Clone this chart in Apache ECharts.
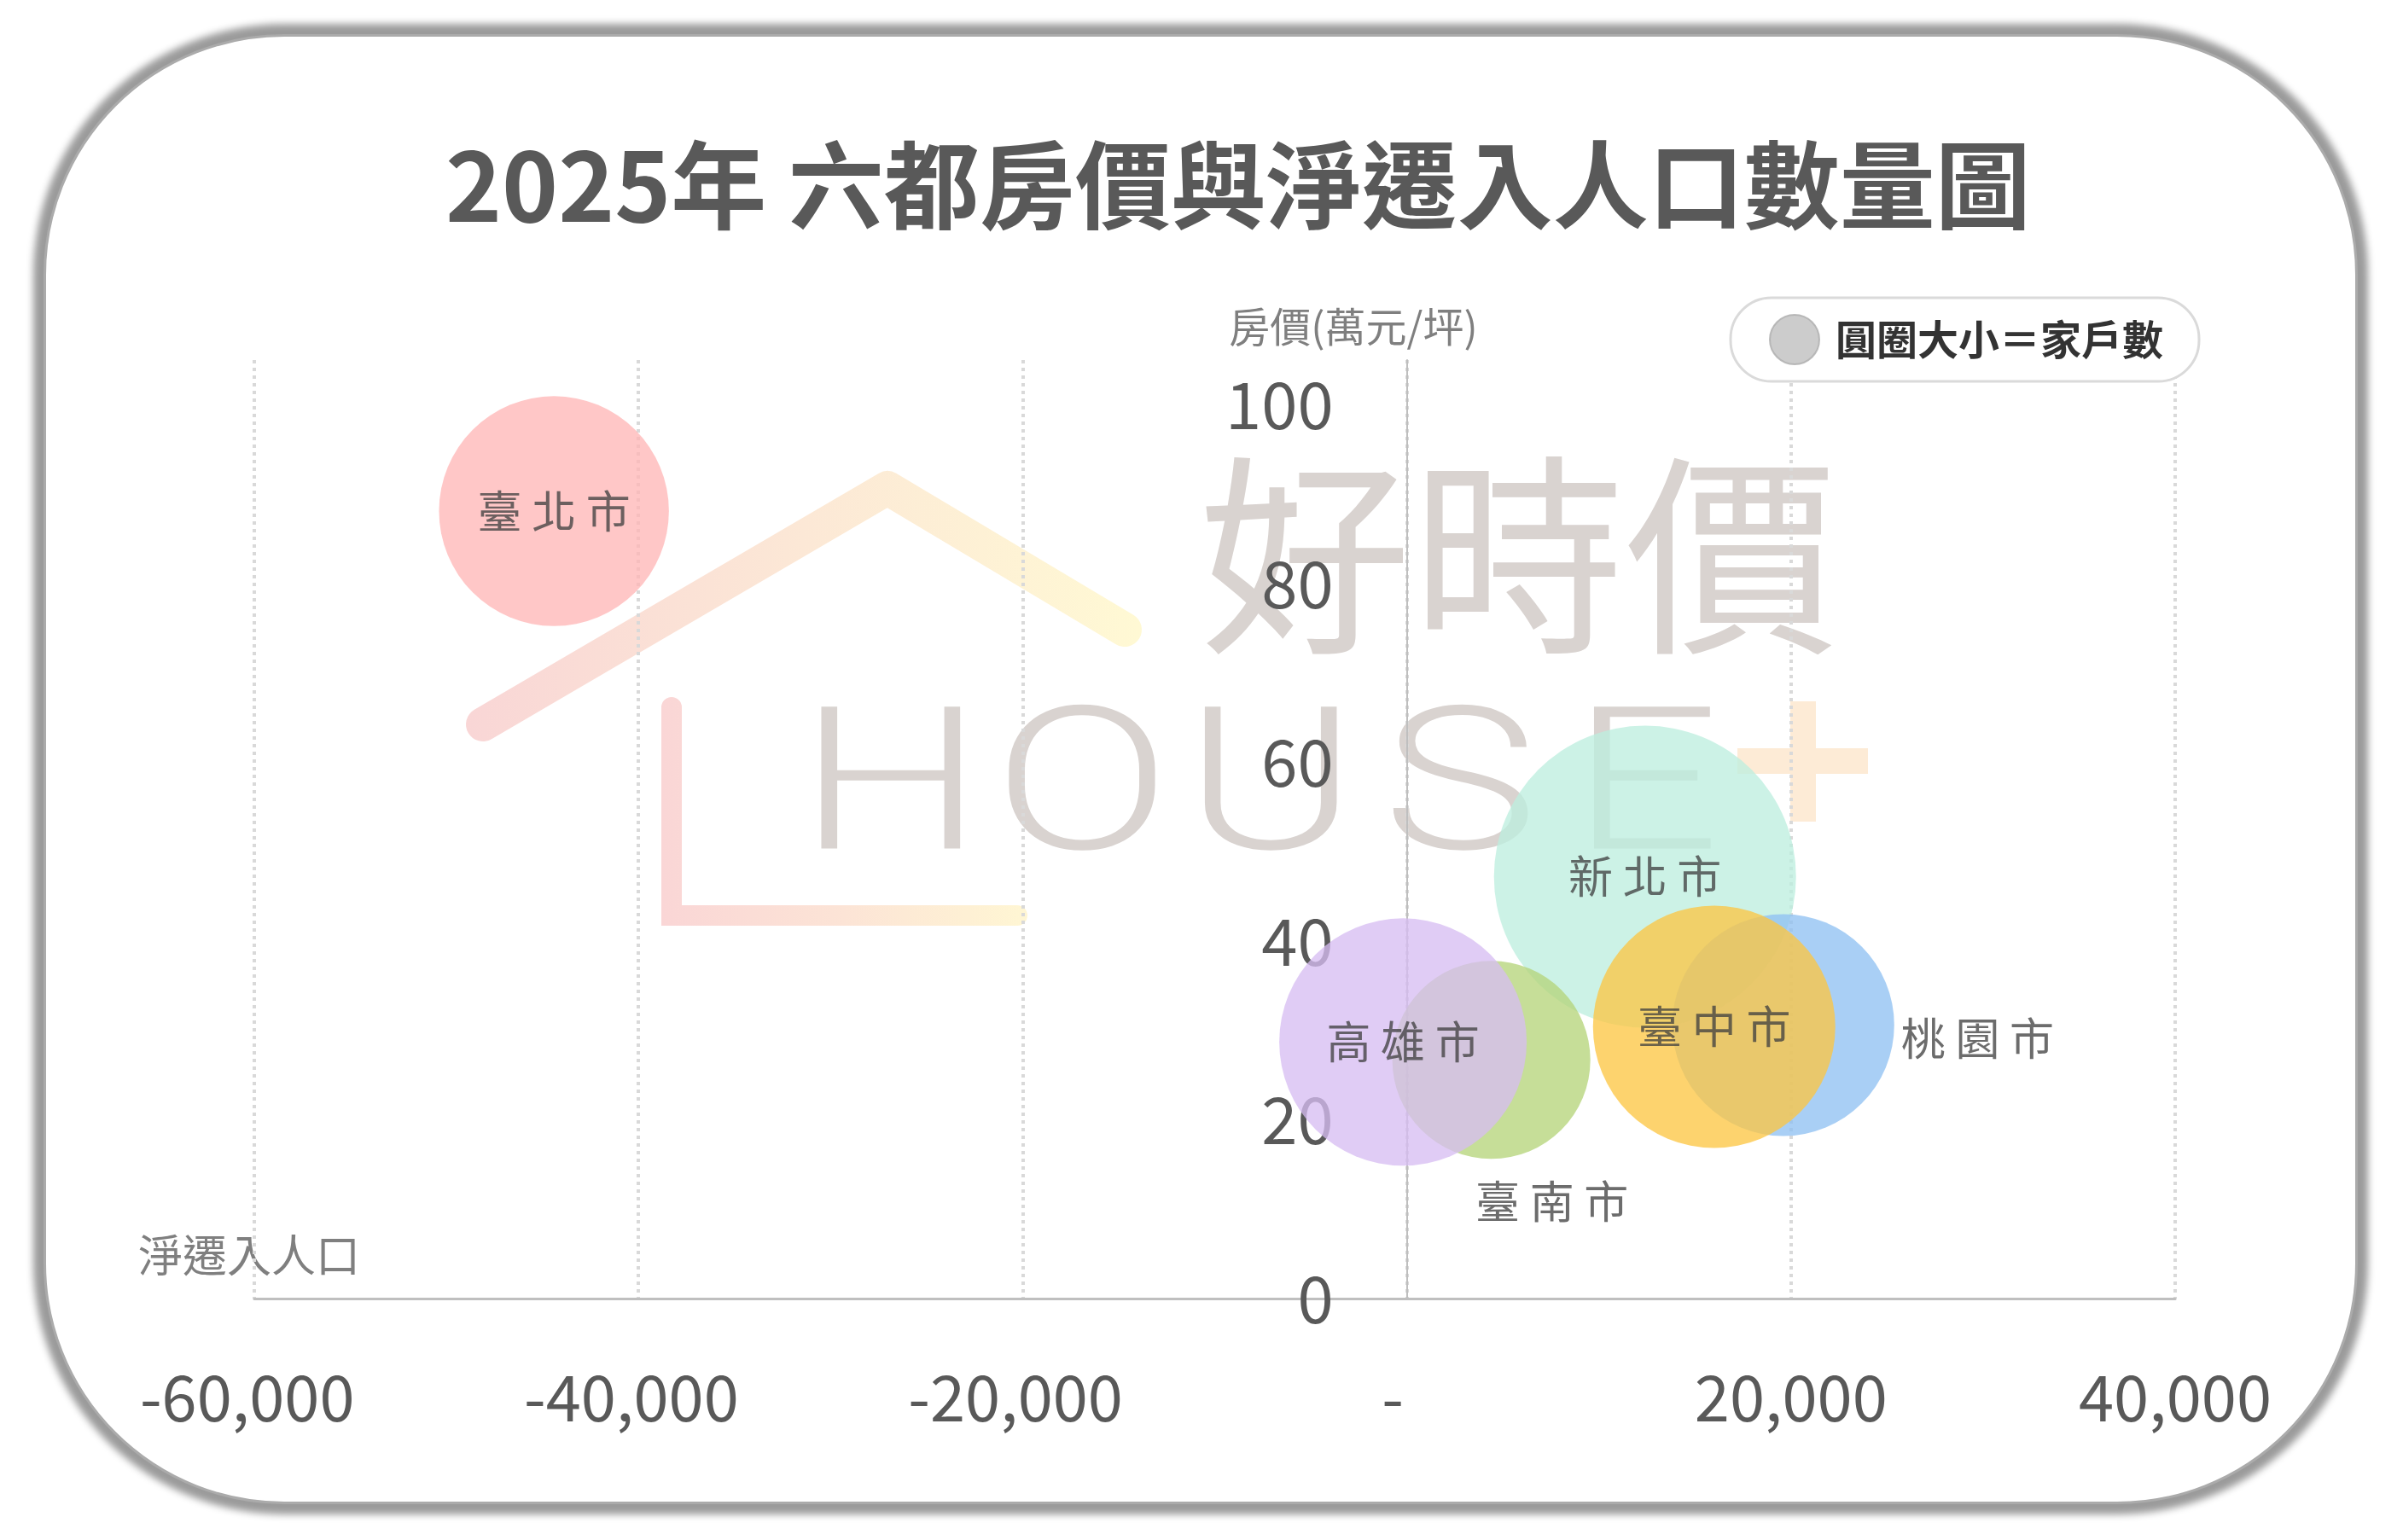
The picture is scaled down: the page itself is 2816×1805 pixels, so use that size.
<!DOCTYPE html>
<html>
<head>
<meta charset="utf-8">
<title>2025年 六都房價與淨遷入人口數量圖</title>
<script src="https://cdn.jsdelivr.net/npm/echarts@6/dist/echarts.min.js"></script>
<style>
  html, body { margin: 0; padding: 0; background: #fff; }
  #card {
    position: absolute; left: 51px; top: 40px; width: 2712px; height: 1723px;
    box-sizing: border-box; border: 3px solid #ababab; border-radius: 282px;
    background: #fff; box-shadow: 0 0 8px 12px #9b9b9b;
  }
  #main { position: absolute; left: 0; top: 0; width: 2816px; height: 1805px; }
</style>
</head>
<body>
<div id="card"></div>
<div id="main"></div>
<script>
// 資料（依繪製順序，後者在上）
const cities = ['新北市', '臺南市', '高雄市', '桃園市', '臺中市', '臺北市'];
const netMigration = [12400, 4400, -200, 19600, 16000, -44400];   // 淨遷入人口
const housePrice = [47.2, 26.7, 28.7, 30.6, 30.4, 88.1];          // 房價(萬元/坪)
const households = [1680000, 722000, 1127000, 906000, 1081000, 973000]; // 家戶數
const xTicks = [-60000, -40000, -20000, 0, 20000, 40000];
const yTicks = [0, 20, 40, 60, 80, 100];

const palette = {
  '臺北市': '#FFB6B6', '新北市': '#BDEEDF', '桃園市': '#8FC1F2',
  '臺中市': '#FCC643', '臺南市': '#B5D479', '高雄市': '#D7BDF2'
};
const labelPos = {
  '桃園市': { position: 'right', distance: 8, offset: [0, 16] },
  '臺南市': { position: 'bottom', distance: 24, offset: [71, 0] }
};
const FONT = '"Noto Sans CJK TC", "Noto Sans", sans-serif';
const maxR = 177;
const maxH = Math.max(...households);

const data = cities.map((c, i) => ({
  name: c,
  value: [netMigration[i], housePrice[i], households[i]],
  itemStyle: { color: palette[c], opacity: 0.77 },
  label: Object.assign({ position: 'inside' }, labelPos[c] || {})
}));

// 版面
const W = 2816, gridL = 298, gridR = 267;
const xMin = xTicks[0], xMax = xTicks[xTicks.length - 1];
// y 軸放在 x = 0 處
const yAxisOffset = -(W - gridL - gridR) * (0 - xMin) / (xMax - xMin);

const chart = echarts.init(document.getElementById('main'));

// 浮水印
const wmGray = '#D9D3D0';
const houseLetters = ['H', 'O', 'U', 'S', 'E'];
const letterX = [1044, 1268, 1489, 1711, 1928];
const watermark = [
  {
    type: 'polyline', z: -10, silent: true,
    shape: { points: [[566, 849], [1040, 572], [1318, 738]] },
    style: {
      fill: null, lineWidth: 40, lineCap: 'round', lineJoin: 'round',
      stroke: new echarts.graphic.LinearGradient(0, 0, 1, 0, [
        { offset: 0, color: '#F9D6D6' }, { offset: 0.5, color: '#FCE8D6' }, { offset: 1, color: '#FFF9D4' }
      ])
    }
  },
  {
    type: 'polyline', z: -10, silent: true,
    shape: { points: [[787, 829], [787, 1073], [1192, 1073]] },
    style: {
      fill: null, lineWidth: 24, lineCap: 'round',
      stroke: new echarts.graphic.LinearGradient(0, 0, 1, 0, [
        { offset: 0, color: '#FAD6D6' }, { offset: 0.5, color: '#FCE4D6' }, { offset: 1, color: '#FFF6D3' }
      ])
    }
  },
  {
    type: 'text', z: -10, silent: true, x: 1779, y: 651,
    style: { text: '好時價', fill: wmGray, font: '250px ' + FONT, align: 'center', verticalAlign: 'middle' }
  },
  {
    type: 'rect', z: -10, silent: true,
    shape: { x: 2036, y: 877, width: 153, height: 30 }, style: { fill: '#FDEBD6' }
  },
  {
    type: 'rect', z: -10, silent: true,
    shape: { x: 2098, y: 822, width: 30, height: 141 }, style: { fill: '#FDEBD6' }
  }
].concat(houseLetters.map((ch, i) => ({
  type: 'text', z: -10, silent: true, x: letterX[i], y: 936, scaleX: 1.32,
  style: { text: ch, fill: wmGray, font: '300 234px Roboto, "Noto Sans", sans-serif', align: 'center', verticalAlign: 'middle' }
})));

const axisNames = [
  {
    type: 'text', x: 1586, y: 383,
    style: { text: '房價(萬元/坪)', fill: '#7F7F7F', font: '48px ' + FONT, align: 'center', verticalAlign: 'middle' }
  },
  {
    type: 'text', x: 292, y: 1471,
    style: { text: '淨遷入人口', fill: '#7F7F7F', font: '52px ' + FONT, align: 'center', verticalAlign: 'middle' }
  }
];

chart.setOption({
  animation: false,
  textStyle: { fontFamily: FONT },
  title: {
    text: '2025年 六都房價與淨遷入人口數量圖',
    left: 517, top: 156,
    textStyle: { fontSize: 112, fontWeight: 'bold', color: '#595959', fontFamily: FONT }
  },
  legend: {
    data: [{ name: '圓圈大小＝家戶數', icon: 'circle', itemStyle: { color: '#BFBFBF', borderColor: '#ADADAD', borderWidth: 2 } }],
    right: 239, top: 349,
    itemWidth: 58, itemHeight: 58, itemGap: 0,
    padding: [19, 42, 19, 45],
    backgroundColor: '#fff', borderColor: '#DADADA', borderWidth: 3, borderRadius: 48,
    textStyle: { fontSize: 48, color: '#333', fontWeight: 'bold', padding: [0, 0, 0, 14] },
    selectedMode: false
  },
  grid: { left: gridL, right: gridR, top: 422, bottom: 283, containLabel: false },
  xAxis: {
    type: 'value',
    min: xMin, max: xMax, interval: 20000,
    axisLine: { show: true, lineStyle: { color: '#BFBFBF', width: 3 } },
    axisTick: { show: false },
    axisLabel: {
      fontSize: 74, color: '#595959', margin: 79,
      formatter: v => (v === 0 ? '-  ' : v < 0 ? v.toLocaleString('en-US') + ' ' : v.toLocaleString('en-US'))
    },
    splitLine: { show: true, lineStyle: { color: '#D9D9D9', width: 4, type: [4, 5] } }
  },
  yAxis: {
    type: 'value',
    position: 'left',
    offset: yAxisOffset,
    min: yTicks[0], max: 105, interval: 20,
    axisLine: { show: true, onZero: false, lineStyle: { color: '#BFBFBF', width: 2 } },
    axisTick: { show: false },
    axisLabel: {
      fontSize: 76, color: '#595959', margin: 86,
      formatter: v => (yTicks.includes(v) ? String(v) : '')
    },
    splitLine: { show: false }
  },
  graphic: { elements: watermark.concat(axisNames) },
  series: [{
    name: '圓圈大小＝家戶數',
    type: 'scatter',
    data: data,
    symbolSize: v => 2 * maxR * Math.sqrt(v[2] / maxH),
    label: {
      show: true,
      formatter: p => p.name.split('').join(' '),
      fontSize: 52, color: '#404040'
    },
    emphasis: { disabled: true },
    z: 3
  }]
});
</script>
</body>
</html>
